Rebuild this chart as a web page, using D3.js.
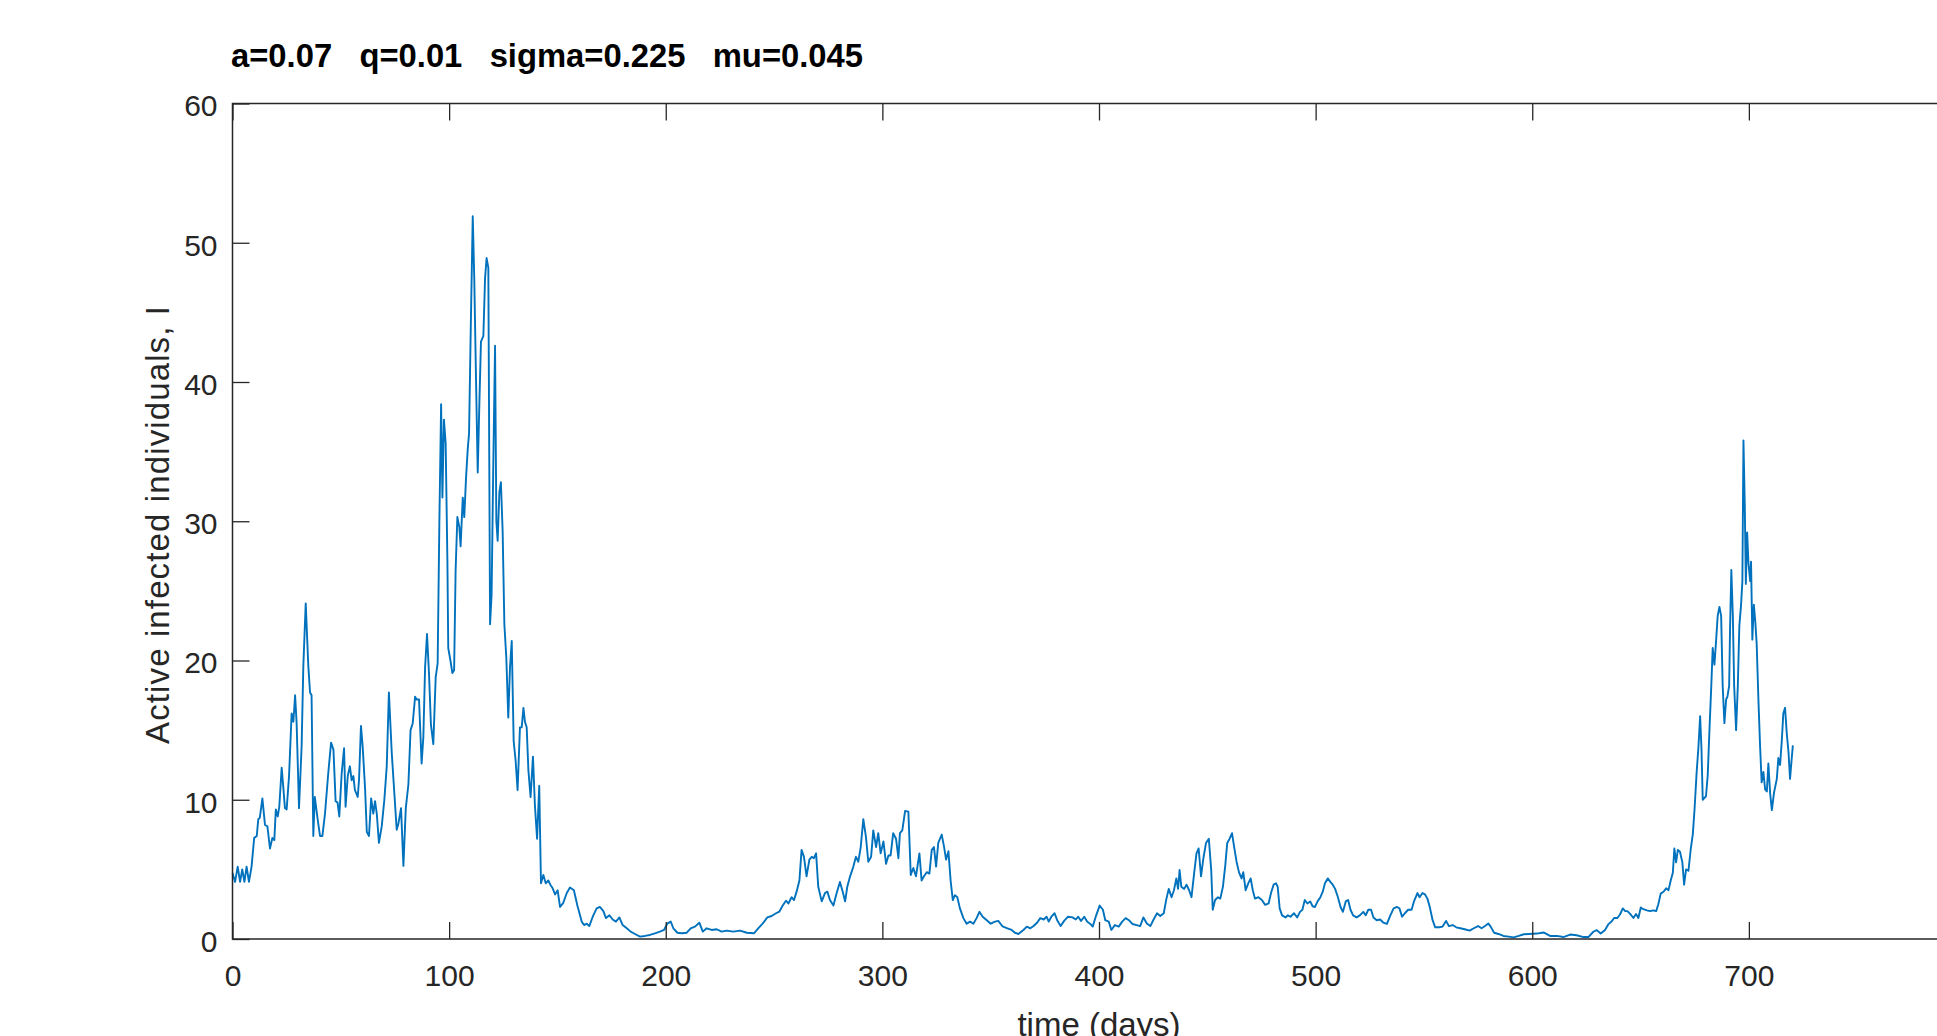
<!DOCTYPE html>
<html><head><meta charset="utf-8">
<script src="https://cdn.jsdelivr.net/npm/d3@7"></script>
<style>
html,body{margin:0;padding:0;background:#fff;overflow:hidden}
svg{display:block}
text{font-family:"Liberation Sans",Arial,Helvetica,sans-serif;fill:#262626}
</style></head><body><svg id="chart" width="1937" height="1036"></svg>
<script>
const days = [
0,1.2,2.4,3.5,4.5,5.5,6.5,7.6,8.8,10,
11.2,11.9,12.6,13.8,15,16.1,17.3,18.4,19.3,20,
20.9,21.6,22.7,23.5,24.2,25,26.1,27.3,28.1,28.9,
29.6,30.7,31.9,32.7,33.8,35,35.8,36.5,37.3,38,
39.3,40.4,41.5,42.7,44.2,45.5,46.6,47.6,48.5,49.3,
50.4,51.5,52.2,53.2,54.2,55,55.8,56.5,57.8,58.4,
59.3,60.1,61.2,62,63,64,65,65.8,66.6,67.6,
68.9,70.1,71.2,72.2,73.5,74.7,75.8,76.6,77.8,78.9,
80,81.2,82.2,83.2,84.3,
85,86.1,87.3,88.1,88.9,89.8,90.7,91.6,92.7,93.8,
94.7,95.5,96.3,96.9,97.6,98.4,99.2,99.6,100.6,101.5,
102.3,103,103.8,104.7,105.3,106.3,107,107.8,108.6,109.2,
110,110.9,111.6,112.3,113.2,114,114.7,115.8,116.6,117.3,
118.1,118.9,119.6,120.4,121.2,121.8,122.4,123.2,123.9,124.7,
125.5,126.4,127.3,128.1,128.9,129.8,130.7,131.6,132.7,133.5,
134.3,135,135.8,136.6,137.6,138.7,139.6,140.6,141.6,142.4,
143.5,144.6,145.8,146.7,147.6,148.9,150.1,151.2,152.7,154.3,
155.8,
157.6,159.2,161.2,162.3,163.5,164.7,166.3,168.1,169.6,171.2,
172.4,174,175.5,177,178.6,180.1,182,183.8,185.8,188.1,
190.4,192.7,195,197.3,199.2,200.7,202.3,203.5,205.4,207.4,
209.7,211.5,213.5,215.5,217.1,218.9,221.2,223.5,225.8,228.1,
231.2,234.3,237.4,240.7,242.7,244.7,246.9,248.9,250.9,252.4,
254,255.5,256.6,258.1,259.2,260.4,261.7,262.7,263.8,265,
266.3,267.4,268.4,269.4,270.4,272,273.5,274.6,275.8,277.4,
278.9,280.4,281.7,282.8,283.8,285.1,286.6,287.8,288.9,290,
291.2,292.4,293.5,294.8,295.8,297.1,298.1,299.2,300.5,301.7,
302.8,303.8,305,306.3,307.4,308.1,309.2,310.5,312,313.1,
314.3,315.5,317.1,318.1,319.2,320.5,321.7,322.8,323.8,324.8,
325.8,327.4,328.5,329.4,330.5,331.5,332.5,333.5,334.6,335.8,
337.4,338.9,340.5,342,343.5,344.8,346.3,348.2,350,352,
353.5,355.5,357.7,359.7,
361.2,362.8,365.1,366.7,368.3,369.8,371.4,372.9,374.5,375.8,
376.8,378,379.5,380.7,382.3,383.9,385.7,387.8,389.3,390.4,
391.7,393.2,394.5,396,397.1,398.7,400.3,401.8,402.9,404.5,
405.7,407.3,409.1,410.7,412.3,413.8,415.4,417.4,419,420.5,
422.1,423.7,425.2,426.8,428.3,429.9,431,432.2,433.5,434.6,
435.7,436.5,437.2,438,439.3,440.4,441.6,442.7,443.9,445,
446,447.1,448.2,449.4,450.7,451.8,452.5,453.6,454.9,456,
457.2,458.3,459.2,460.3,461.4,462.4,463.5,464.6,465.8,466.6,
467.7,468.9,470,471,472,473.6,475.2,476.7,478.3,479.4,
480.6,481.7,482.5,483.4,484.5,486.1,487.2,488.4,490,491.5,
492.8,493.9,495,496.2,497.5,498.6,499.7,500.9,502.2,503.3,
504.3,505.6,506.8,507.9,509,510.3,511.5,512.6,513.9,515,
516.1,517.3,518.9,520.4,522,523.1,524.3,525.6,526.7,528.2,
529.8,531.3,532.9,534.5,536,537.6,538.7,539.9,541.2,542.7,
544.3,545.4,547,548,549.3,550.5,551.6,552.7,554,555.2,
557.1,558.6,560.2,561.5,563.3,564.9,566.8,568.8,571.1,573,
575,576.6,578.2,579.7,580.8,582.4,584.4,586.7,589.1,591.4,
593.8,596.1,598.4,
602.1,605.2,608.2,611.3,614.4,617.5,620.5,623.6,625.9,628.2,
629.8,631.6,633.6,635.2,636.7,637.8,639.3,640.5,641.8,642.9,
643.9,645.2,646.7,647.9,649,650.1,651.3,652.9,654.4,655.9,
657.2,658.2,659.3,660.6,661.8,662.9,664,664.9,665.6,666.4,
667.2,668.2,669.3,670.1,671,672.1,673.2,674.1,674.9,675.9,
676.7,677.5,678.1,678.7,679.3,680.2,681,681.8,682.6,683.3,
684.1,684.9,685.6,686.4,687.2,687.9,688.7,689.5,690.1,690.9,
691.3,691.9,692.6,693.2,694.1,694.9,695.6,696.4,697,697.5,
698.1,698.6,699.2,699.8,700.6,701,701.6,702.3,703,703.6,
704.4,705.2,705.9,706.7,707.5,708.3,709,709.8,710.6,711.6,
712.9,713.6,714.4,715.2,715.9,716.7,717.5,718.3,719,719.8,
720.3
];
const infected = [
4.74,4.1,5.2,4.1,5.0,4.1,5.2,4.1,5.2,7.25,
7.4,8.6,8.7,10.1,8.2,8.1,6.5,7.25,7.1,9.3,
8.8,9.5,12.3,10.8,9.4,9.3,11.7,16.2,15.6,17.5,
15.5,9.4,13.8,19.6,24.1,19.6,17.7,17.5,7.4,10.2,
8.6,7.4,7.4,9.0,11.9,14.1,13.6,9.9,9.8,8.8,
11.9,13.7,9.5,11.7,12.4,11.4,11.7,10.7,10.2,11.4,
15.3,13.8,10.8,7.7,7.4,10.1,9.0,9.9,9.0,6.9,
8.1,10.0,12.4,17.7,13.4,10.5,7.85,8.3,9.4,5.25,
9.4,11.1,15.0,15.5,17.4,
17.2,17.2,12.6,14.5,19.5,21.9,19.1,15.4,14.0,18.8,
19.8,30.0,38.4,31.7,37.3,35.6,27.2,20.9,20.0,19.1,
19.3,26.5,30.3,29.6,28.2,31.7,30.3,33.1,35.2,36.3,
44.0,51.9,47.5,41.2,33.5,38.7,42.9,43.3,47.5,48.9,
48.2,22.6,24.7,34.2,42.6,30.0,28.6,32.1,32.8,29.3,
22.6,20.2,15.9,19.5,21.4,14.2,12.8,10.7,15.2,15.2,
16.6,15.6,15.2,12.1,10.2,13.1,9.6,7.2,11.0,4.0,
4.6,4.0,4.2,3.9,3.7,3.2,3.5,2.3,2.6,3.3,
3.7,
3.5,2.4,1.25,1.0,1.1,0.93,1.6,2.2,2.3,2.0,
1.5,1.7,1.4,1.25,1.55,1.0,0.77,0.53,0.36,0.17,
0.22,0.29,0.41,0.53,0.65,1.1,1.25,0.77,0.45,0.41,
0.45,0.77,0.89,1.17,0.53,0.77,0.65,0.7,0.53,0.6,
0.53,0.6,0.45,0.41,0.77,1.1,1.55,1.65,1.85,1.96,
2.4,2.75,2.55,3.0,2.8,3.4,4.2,6.4,5.9,4.5,
5.7,5.9,5.8,6.15,3.75,2.7,3.3,3.4,2.8,2.4,
3.3,4.1,3.4,2.7,3.75,4.5,5.2,5.9,5.55,6.6,
8.6,7.35,5.55,5.9,7.8,6.6,7.6,6.15,7.0,5.4,
6.0,6.0,7.6,7.2,5.8,7.6,7.8,9.2,9.15,4.6,
5.1,4.5,6.15,4.2,4.5,4.8,4.7,6.4,6.6,5.2,
6.9,7.5,6.6,5.7,6.3,4.2,2.8,3.15,3.0,2.2,
1.5,1.1,1.25,1.1,1.5,1.95,1.6,1.35,1.1,1.25,
1.3,0.9,0.77,0.65,
0.45,0.36,0.65,0.89,0.77,0.93,1.17,1.5,1.4,1.6,
1.25,1.6,1.85,1.35,0.93,1.3,1.6,1.55,1.4,1.6,
1.3,1.6,1.25,1.08,0.89,1.7,2.4,2.1,1.35,1.25,
0.65,1.0,0.89,1.25,1.5,1.35,1.08,1.0,0.93,1.55,
1.12,0.93,1.4,1.85,1.65,1.85,2.8,3.6,3.0,3.5,
4.35,3.6,4.95,3.75,3.6,3.9,3.5,3.0,4.7,6.15,
6.5,4.5,5.8,6.9,7.2,4.95,2.1,2.8,3.0,2.9,
3.75,5.3,6.9,7.2,7.6,6.6,5.55,4.8,4.35,4.8,
3.5,4.0,4.35,3.5,2.9,3.0,2.8,2.45,2.55,3.3,
3.9,4.0,3.75,2.2,1.7,1.55,1.7,1.6,1.85,1.55,
1.95,2.1,2.8,2.55,2.7,2.35,2.3,2.7,3.0,3.4,
4.0,4.35,4.1,3.9,3.6,3.0,2.3,1.95,2.7,2.8,
2.1,1.7,1.55,1.7,1.95,1.7,2.1,2.1,1.55,1.35,
1.4,1.17,1.08,1.7,2.2,2.3,2.2,1.6,1.85,2.1,
2.1,2.7,3.3,3.0,3.3,3.2,2.9,2.3,1.35,0.84,
0.84,0.89,1.3,0.93,1.0,0.84,0.77,0.7,0.6,0.77,
0.93,0.77,0.93,1.12,0.89,0.45,0.36,0.22,0.17,0.12,
0.22,0.34,0.36,
0.39,0.47,0.22,0.22,0.14,0.32,0.27,0.14,0.14,0.52,
0.64,0.39,0.64,1.07,1.27,1.51,1.51,1.76,2.2,2.0,
2.0,1.8,1.51,1.8,1.51,2.26,2.14,2.06,2.0,2.06,
2.0,2.5,3.26,3.39,3.64,3.51,4.26,4.76,6.5,5.5,
6.4,6.26,5.5,3.9,5.0,4.9,6.5,7.5,9.26,12.0,
13.75,16.0,13.75,10.0,10.1,10.25,11.75,15.0,18.0,20.9,
19.7,21.5,23.2,23.85,23.2,18.2,15.5,17.2,17.4,18.2,
22.2,26.5,23.2,18.2,15.0,18.2,22.5,24.0,25.7,35.8,
31.2,25.5,29.2,27.0,25.7,27.1,21.5,24.0,22.7,21.2,
17.2,13.75,11.25,12.0,10.75,10.6,12.6,10.5,9.26,10.5,
11.5,13.0,12.5,14.25,16.2,16.6,14.75,13.4,11.5,13.0,
13.9
];
const xTicks = [0,100,200,300,400,500,600,700,800];
const yTicks = [0,10,20,30,40,50,60];
const subtitleParts = ["a=0.07","q=0.01","sigma=0.225","mu=0.045"];
const xLabel = "time (days)";
const yLabel = "Active infected individuals, I";

if (days.length !== infected.length) throw new Error("length mismatch " + days.length + " vs " + infected.length);

const svg = d3.select("#chart");
const m = {left:232.5, top:103.5, right:1965.5, bottom:939};
const x = d3.scaleLinear().domain([0,800]).range([m.left,m.right]);
const y = d3.scaleLinear().domain([0,60]).range([m.bottom,m.top]);
const axisColor = "#262626";

// data line
const line = d3.line().x(i => x(days[i])).y(i => y(infected[i]));
svg.append("path")
  .attr("d", line(d3.range(days.length)))
  .attr("fill","none").attr("stroke","#0072BD")
  .attr("stroke-width",1.9).attr("stroke-linejoin","round");

// box
svg.append("rect")
  .attr("x",m.left).attr("y",m.top)
  .attr("width",m.right-m.left).attr("height",m.bottom-m.top)
  .attr("fill","none").attr("stroke",axisColor).attr("stroke-width",1.5);

// bottom axis
const gx = svg.append("g").attr("transform",`translate(0,${m.bottom})`)
  .style("color",axisColor)
  .call(d3.axisBottom(x).tickValues(xTicks).tickSizeInner(-17).tickSizeOuter(0).tickPadding(26).tickFormat(d3.format("d")));
gx.select(".domain").remove();
gx.attr("font-size",30);
gx.selectAll("line").attr("stroke-width",1.3);

// top ticks
const gt = svg.append("g").attr("transform",`translate(0,${m.top})`)
  .style("color",axisColor)
  .call(d3.axisTop(x).tickValues(xTicks).tickSizeInner(-17).tickSizeOuter(0).tickFormat(""));
gt.select(".domain").remove();
gt.selectAll("line").attr("stroke-width",1.3);

// left axis
const gy = svg.append("g").attr("transform",`translate(${m.left},0)`)
  .style("color",axisColor)
  .call(d3.axisLeft(y).tickValues(yTicks).tickSizeInner(-17).tickSizeOuter(0).tickPadding(15).tickFormat(d3.format("d")));
gy.select(".domain").remove();
gy.attr("font-size",30);
gy.selectAll("text").attr("dy","0.41em");
gy.selectAll("line").attr("stroke-width",1.3);

// right ticks
const gr = svg.append("g").attr("transform",`translate(${m.right},0)`)
  .style("color",axisColor)
  .call(d3.axisRight(y).tickValues(yTicks).tickSizeInner(-17).tickSizeOuter(0).tickFormat(""));
gr.select(".domain").remove();

// subtitle
svg.append("text")
  .attr("x",231).attr("y",66.5)
  .style("white-space","pre")
  .attr("font-size",33).attr("font-weight","bold")
  .attr("textLength",632).attr("lengthAdjust","spacingAndGlyphs")
  .style("fill","#000")
  .text(subtitleParts.join("   "));

// axis labels
svg.append("text")
  .attr("x",(m.left+m.right)/2).attr("y",1036)
  .attr("text-anchor","middle").attr("font-size",33)
  .text(xLabel);

svg.append("text")
  .attr("transform","translate(169,525) rotate(-90)")
  .attr("text-anchor","middle").attr("font-size",33)
  .attr("textLength",438).attr("lengthAdjust","spacing")
  .text(yLabel);
</script></body></html>
